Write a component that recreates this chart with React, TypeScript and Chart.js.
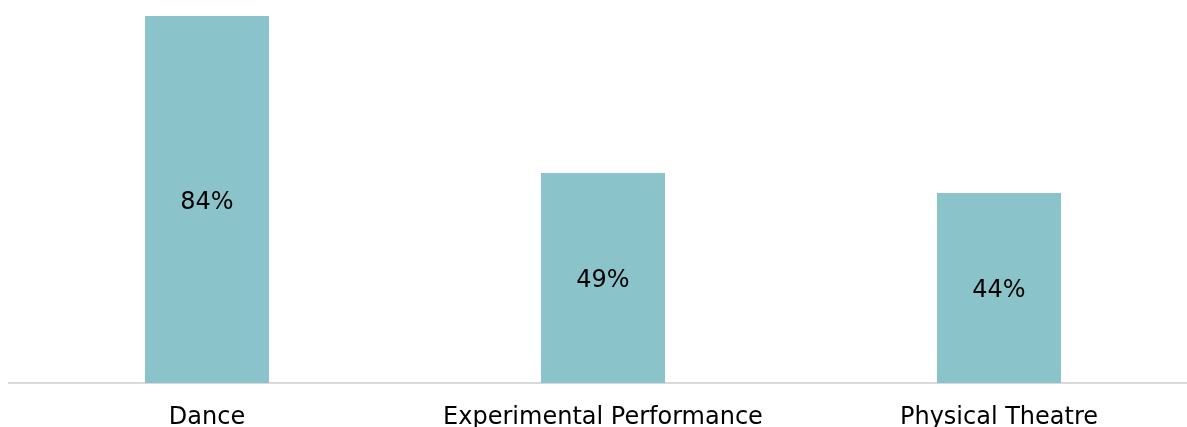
import React, { useEffect, useRef } from "react";
import { Chart, registerables } from "chart.js";

Chart.register(...registerables);

const categories: string[] = ["Dance", "Experimental Performance", "Physical Theatre"];
const shares: number[] = [84.4, 48.3, 43.7];
const valueLabels: string[] = ["84%", "49%", "44%"];

const FONT = '"DejaVu Sans", Verdana, sans-serif';

const insideLabels = {
  id: "insideLabels",
  afterDatasetsDraw(chart: any) {
    const ctx = chart.ctx;
    const meta = chart.getDatasetMeta(0);
    ctx.save();
    ctx.font = `24px ${FONT}`;
    ctx.fillStyle = "#000000";
    ctx.textAlign = "center";
    ctx.textBaseline = "middle";
    meta.data.forEach((bar: any, i: number) => {
      const y = (bar.y + bar.base) / 2 + 3;
      ctx.fillText(valueLabels[i], bar.x, y);
    });
    ctx.restore();
  },
};

export default function App() {
  const ref = useRef<HTMLCanvasElement | null>(null);

  useEffect(() => {
    if (!ref.current) return;
    const chart = new Chart(ref.current, {
      type: "bar",
      data: {
        labels: categories,
        datasets: [
          {
            data: shares,
            backgroundColor: "#8BC3CB",
            borderWidth: 0,
            barPercentage: 1,
            categoryPercentage: 124 / 396,
          },
        ],
      },
      options: {
        animation: false,
        responsive: false,
        devicePixelRatio: 1,
        layout: { padding: { left: 9, right: 13, top: 16, bottom: 0 } },
        plugins: {
          legend: { display: false },
          tooltip: { enabled: false },
        },
        scales: {
          x: {
            grid: { display: false, drawTicks: false },
            border: { display: true, color: "#d9d9d9", width: 2 },
            ticks: {
              color: "#000000",
              font: { family: FONT, size: 24 },
              padding: 20,
              maxRotation: 0,
              autoSkip: false,
            },
            afterFit: (scale: any) => {
              scale.height = 44;
            },
          },
          y: {
            display: false,
            min: 0,
            max: 84.4,
          },
        },
      },
      plugins: [insideLabels],
    });
    return () => chart.destroy();
  }, []);

  return (
    <div
      style={{
        position: "fixed",
        left: 0,
        top: 0,
        width: 1187,
        height: 427,
        overflow: "hidden",
        background: "#ffffff",
      }}
    >
      <canvas ref={ref} width={1210} height={427} style={{ display: "block" }} />
    </div>
  );
}
